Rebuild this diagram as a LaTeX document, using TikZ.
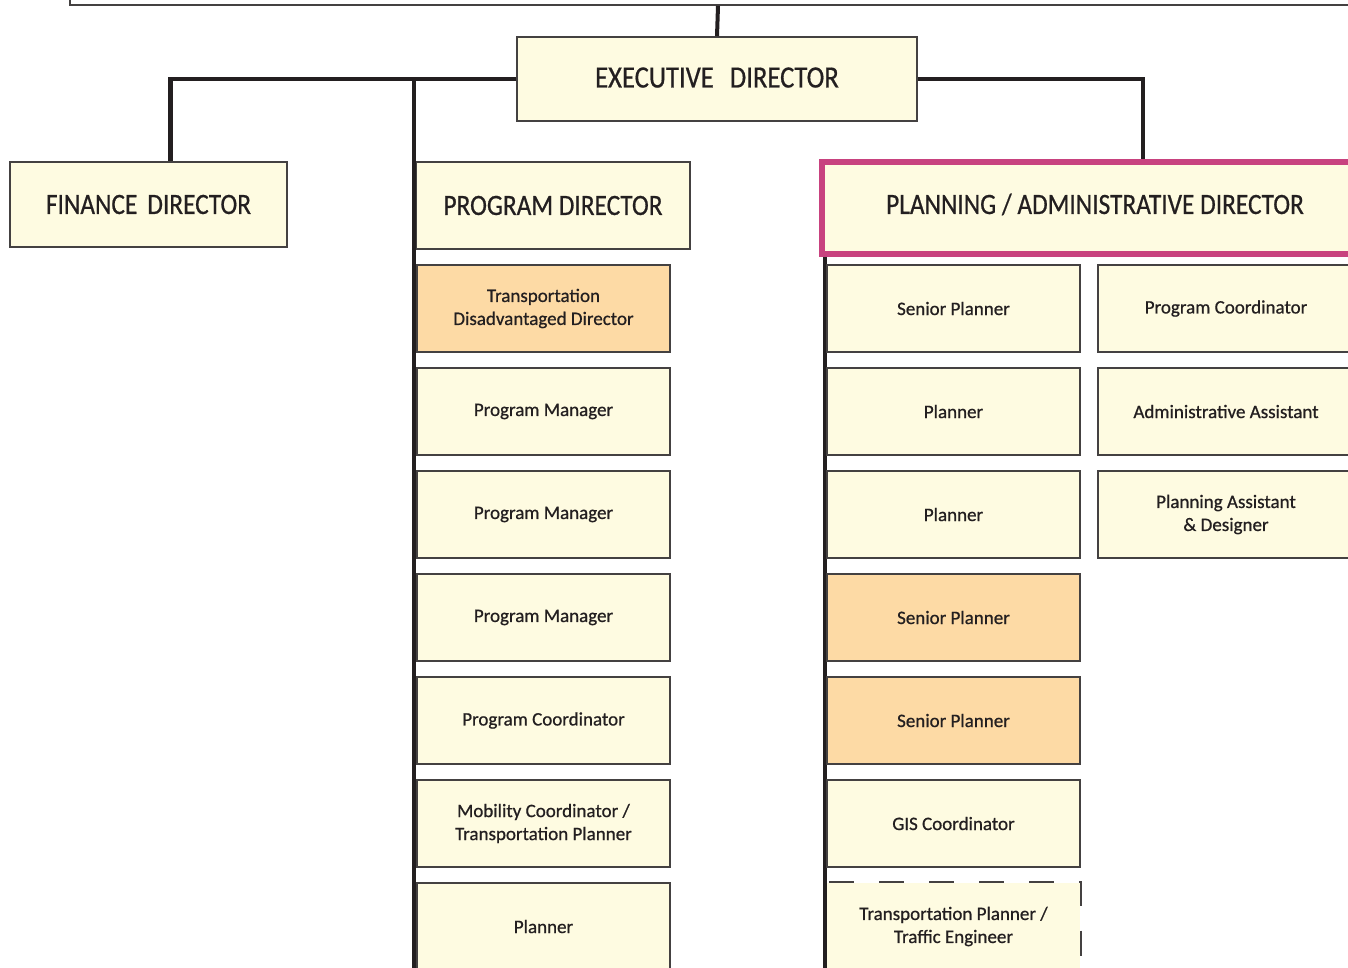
\documentclass[tikz,border=0pt]{standalone}
\usepackage{fontspec}
\setmainfont[FakeBold=0.7]{Carlito}
\newfontfamily\headfont[FakeStretch=0.86,FakeBold=0.6]{Carlito}
\definecolor{boxyel}{HTML}{FEFBE1}
\definecolor{boxorg}{HTML}{FDDAA5}
\definecolor{magen}{HTML}{C8427F}
\definecolor{ink}{HTML}{231F20}
\tikzset{
  box/.style={draw=ink!85, line width=1.6pt, fill=boxyel, inner sep=0pt, align=center, text=ink, font=\fontsize{19}{23}\selectfont},
  orgbox/.style={box, fill=boxorg},
  head/.style={box, font=\headfont\fontsize{29.5}{34}\selectfont},
  conn/.style={draw=ink, line width=4.5pt},
  vconn/.style={draw=ink, line width=4pt},
}
\begin{document}
\begin{tikzpicture}[x=1pt,y=-1pt]
\useasboundingbox (0,0) rectangle (1348,968);
% top box (cut off)
\node[draw=ink!85, line width=1.6pt, fill=white, minimum width=1296pt, minimum height=60pt, inner sep=0pt] (top) at (718,-25) {};
% directors
\node[head, minimum width=400pt, minimum height=84pt, font=\headfont\fontsize{31}{36}\selectfont, text height=20pt, text depth=3pt] (exec) at (717,79) {EXECUTIVE\hspace{16pt}DIRECTOR};
\node[head, minimum width=277pt, minimum height=85pt] (fin) at (148.5,204.5) {FINANCE\hspace{10pt}DIRECTOR};
\node[head, minimum width=274pt, minimum height=87pt] (prog) at (553,205.5) {PROGRAM DIRECTOR};
\node[head, draw=magen, line width=6pt, minimum width=546pt, minimum height=92pt, text height=19pt, text depth=7pt] (plan) at (1095,208) {PLANNING / ADMINISTRATIVE DIRECTOR};
% connectors
\coordinate (pend) at (414,970);
\coordinate (rend) at (825,970);
\draw[vconn] (top.south) -- (exec.north);
\draw[conn, line join=miter] (exec.west) -| ([xshift=22pt]fin.north);
\draw[conn, line join=miter] (exec.east) -| ([xshift=48pt]plan.north);
\draw[vconn] (exec.west -| pend) -- (pend);
\draw[vconn] (plan.south -| rend) -- (rend);
% program column
\node[orgbox, minimum width=253pt, minimum height=87pt] (p1) at (543.5,308.5) {Transportation\\Disadvantaged Director};
\node[box, minimum width=253pt, minimum height=87pt] (p2) at (543.5,411.5) {Program Manager};
\node[box, minimum width=253pt, minimum height=87pt] (p3) at (543.5,514.5) {Program Manager};
\node[box, minimum width=253pt, minimum height=87pt] (p4) at (543.5,617.5) {Program Manager};
\node[box, minimum width=253pt, minimum height=87pt] (p5) at (543.5,720.5) {Program Coordinator};
\node[box, minimum width=253pt, minimum height=87pt] (p6) at (543.5,823.5) {Mobility Coordinator /\\Transportation Planner};
\node[box, minimum width=253pt, minimum height=87pt] (p7) at (543.5,926.5) {Planner};
% planning column 1
\node[box, minimum width=253pt, minimum height=87pt] (a1) at (953.5,308.5) {Senior Planner};
\node[box, minimum width=253pt, minimum height=87pt] (a2) at (953.5,411.5) {Planner};
\node[box, minimum width=253pt, minimum height=87pt] (a3) at (953.5,514.5) {Planner};
\node[orgbox, minimum width=253pt, minimum height=87pt] (a4) at (953.5,617.5) {Senior Planner};
\node[orgbox, minimum width=253pt, minimum height=87pt] (a5) at (953.5,720.5) {Senior Planner};
\node[box, minimum width=253pt, minimum height=87pt] (a6) at (953.5,823.5) {GIS Coordinator};
\node[box, draw=none, minimum width=253pt, minimum height=87pt] (a7) at (953.5,926.5) {Transportation Planner /\\Traffic Engineer};
\draw[draw=ink!85, line width=1.6pt, dash pattern=on 25pt off 25pt, dash phase=-3pt] (a7.north west) -- (a7.north east) -- (a7.south east);
% planning column 2
\node[box, minimum width=256pt, minimum height=87pt] (b1) at (1226,308.5) {Program Coordinator};
\node[box, minimum width=256pt, minimum height=87pt] (b2) at (1226,411.5) {Administrative Assistant};
\node[box, minimum width=256pt, minimum height=87pt] (b3) at (1226,514.5) {Planning Assistant\\\&~Designer};
\end{tikzpicture}
\end{document}
